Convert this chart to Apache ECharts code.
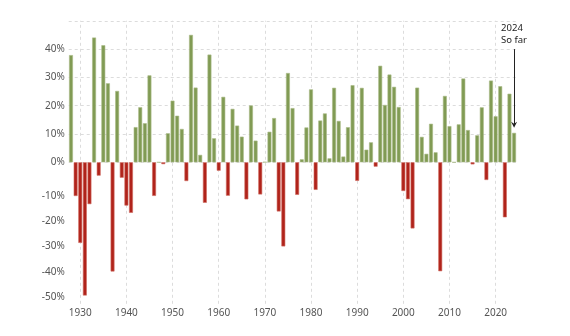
<!DOCTYPE html>
<html>
<head>
<meta charset="utf-8">
<script src="https://cdn.jsdelivr.net/npm/echarts@6/dist/echarts.min.js"></script>
<style>
html,body{margin:0;padding:0;background:#fff;}
#c{width:570px;height:336px;}
</style>
</head>
<body>
<div id="c"></div>
<script>
// S&P 500 annual returns (%), 1928 - 2024 (2024 = so far)
const years = [];
for (let y = 1928; y <= 2024; y++) years.push(String(y));
const returns = [
  37.88, -11.91, -28.48, -47.07, -14.78, 44.08, -4.71, 41.37, 27.92, -38.59,
  25.21, -5.45, -15.29, -17.86, 12.43, 19.45, 13.80, 30.72, -11.87, 0.00,
  -0.65, 10.26, 21.78, 16.46, 11.78, -6.62, 45.02, 26.40, 2.62, -14.31,
  38.06, 8.48, -2.97, 23.13, -11.81, 18.89, 12.97, 9.06, -13.09, 20.09,
  7.66, -11.36, 0.10, 10.79, 15.63, -17.37, -29.72, 31.55, 19.15, -11.50,
  1.06, 12.31, 25.77, -9.73, 14.76, 17.27, 1.40, 26.33, 14.62, 2.03,
  12.40, 27.25, -6.56, 26.31, 4.46, 7.06, -1.54, 34.11, 20.26, 31.01,
  26.67, 19.53, -10.14, -13.04, -23.37, 26.38, 8.99, 3.00, 13.62, 3.53,
  -38.49, 23.45, 12.78, 0.00, 13.41, 29.60, 11.39, -0.73, 9.54, 19.42,
  -6.24, 28.88, 16.26, 26.89, -19.44, 24.23, 10.4
];
const positiveTicks = [0, 10, 20, 30, 40];
const negativeTicks = [-10, -20, -30, -40, -50];
const decadeYears = ['1930','1940','1950','1960','1970','1980','1990','2000','2010','2020'];
const noteText = '2024\nSo far';
const noteYear = '2024';
const noteFrom = 40;
const noteTo = 13.3;

const GREEN = '#819b54', GREEN_B = '#a9ba86';
const RED = '#b0231b', RED_B = '#d06b61';
const FONT = 'Noto Sans';
const LBL = '#555';

const chart = echarts.init(document.getElementById('c'), null, {renderer: 'canvas'});
const gL = 68.7, gR = 53.6, gT = 20.8, gB = 32.2;
chart.setOption({
  backgroundColor: '#fff',
  animation: false,
  grid: [
    {left: gL, right: gR, top: gT, bottom: gB},
    {left: gL, right: gR, top: gT, bottom: 336 - 162.3}
  ],
  xAxis: [
    {type: 'category', gridIndex: 0, data: years,
      axisLine: {show: false}, axisTick: {show: false},
      axisLabel: {interval: (i, v) => Number(v) % 10 === 0, color: LBL, fontFamily: FONT, fontSize: 10, margin: 4},
      splitLine: {show: false}},
    {type: 'category', gridIndex: 1, data: years, show: false}
  ],
  yAxis: [
    {type: 'value', gridIndex: 0, min: -50, max: 50, show: false, splitLine: {show: false}},
    {type: 'value', gridIndex: 1, min: 0, max: 50, interval: 10,
      axisLine: {show: false}, axisTick: {show: false},
      axisLabel: {formatter: v => positiveTicks.includes(v) ? v + '%' : '', color: LBL, fontFamily: FONT, fontSize: 10, margin: 4},
      splitLine: {show: true, lineStyle: {color: '#dcdcdc', type: [3, 3], width: 1}}},
    {type: 'value', gridIndex: 0, position: 'left', min: -52.69, max: 59.06,
      axisLine: {show: false}, axisTick: {show: false}, splitLine: {show: false},
      axisLabel: {customValues: negativeTicks, formatter: v => v + '%', color: LBL, fontFamily: FONT, fontSize: 10, margin: 4}}
  ],
  series: [
    {
      type: 'bar', xAxisIndex: 0, yAxisIndex: 0, z: 3,
      barCategoryGap: '16%',
      data: returns.map(v => ({
        value: v,
        itemStyle: {color: v >= 0 ? GREEN : RED, borderColor: v >= 0 ? GREEN_B : RED_B, borderWidth: 0.6}
      })),
      markLine: {
        silent: true, z: 1, symbol: ['none', 'none'], animation: false,
        label: {show: false},
        lineStyle: {color: '#dcdcdc', type: [3, 3], width: 1},
        data: decadeYears.map(y => ({xAxis: y}))
      }
    },
    {
      type: 'line', xAxisIndex: 0, yAxisIndex: 0, data: [], z: 5,
      markLine: {
        silent: true, z: 5, animation: false, symbol: ['none', 'none'],
        lineStyle: {color: '#222', type: 'solid', width: 1},
        data: [[
          {coord: [noteYear, noteFrom], symbol: 'none',
            label: {show: true, position: 'start', formatter: noteText, color: '#222', fontFamily: FONT, fontSize: 9.5, lineHeight: 12, distance: 3, align: 'left', offset: [-13, 0]}},
          {coord: [noteYear, noteTo], symbol: 'path://M5,0L10,7L5,4.5L0,7Z', symbolSize: [6, 6]}
        ]]
      }
    }
  ]
});
</script>
</body>
</html>
